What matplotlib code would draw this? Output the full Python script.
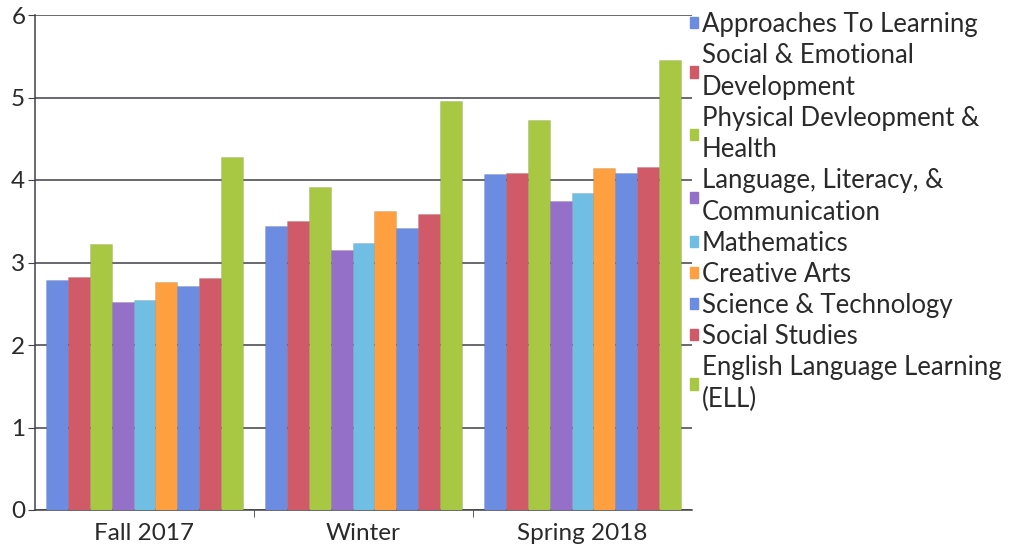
import numpy as np
import matplotlib.pyplot as plt
from matplotlib.patches import Patch

periods = ['Fall 2017', 'Winter', 'Spring 2018']
domains = ['Approaches To Learning', 'Social & Emotional\nDevelopment',
           'Physical Devleopment &\nHealth', 'Language, Literacy, &\nCommunication',
           'Mathematics', 'Creative Arts', 'Science & Technology', 'Social Studies',
           'English Language Learning\n(ELL)']

approaches = [2.79, 3.44, 4.07]
social_emotional = [2.82, 3.50, 4.09]
physical = [3.22, 3.92, 4.73]
language = [2.52, 3.15, 3.75]
mathematics = [2.55, 3.24, 3.84]
creative_arts = [2.76, 3.62, 4.15]
science = [2.72, 3.42, 4.09]
social_studies = [2.81, 3.59, 4.16]
ell = [4.28, 4.96, 5.45]

series = [approaches, social_emotional, physical, language, mathematics,
          creative_arts, science, social_studies, ell]
colors = ['#6b8ce0', '#d05a68', '#a8c844', '#9470c8', '#70bee4',
          '#ffa040', '#6b8ce0', '#d05a68', '#a8c844']

plt.rcParams['font.family'] = ['Lato', 'DejaVu Sans']

fig = plt.figure(figsize=(10.16, 5.47), dpi=100)
ax = fig.add_axes([35 / 1016, 37 / 547, 657 / 1016, 495 / 547])

n = len(series)
w = 0.9 / n
x = np.arange(len(periods))
for i, vals in enumerate(series):
    ax.bar(x - 0.45 + w * (i + 0.5), vals, width=w, color=colors[i],
           edgecolor='#00000022', linewidth=0.5, zorder=3)

ax.set_xlim(-0.5, len(periods) - 0.5)
ax.set_ylim(0, 6)
ax.set_yticks(range(7))
ax.yaxis.grid(True, color='#404048', linewidth=1.1, zorder=0)
ax.set_axisbelow(True)

ax.set_xticks(x)
ax.set_xticklabels(periods, fontsize=17.5, color='#2a2a2a')
ax.set_xticks([0.5, 1.5], minor=True)
ax.tick_params(axis='x', which='major', length=0, pad=9)
ax.tick_params(axis='x', which='minor', length=5, color='#404048')
ax.tick_params(axis='y', length=5, color='#404048', labelsize=17.5, labelcolor='#2a2a2a', pad=2)

for s in ['top', 'right']:
    ax.spines[s].set_visible(False)
for s in ['left', 'bottom']:
    ax.spines[s].set_color('#404048')
    ax.spines[s].set_linewidth(1.1)

handles = [Patch(color=c) for c in colors]
leg = fig.legend(handles, domains, loc='upper left', bbox_to_anchor=(690 / 1016, 1.0 - 12 / 547),
                 frameon=False, fontsize=18.5, handlelength=0.3, handleheight=0.3,
                 handletextpad=0.15, labelspacing=0.23, borderaxespad=0, borderpad=0)
for t in leg.get_texts():
    t.set_color('#2a2a2a')
    t.set_linespacing(1.34)

fig.savefig('out.png', dpi=100)
